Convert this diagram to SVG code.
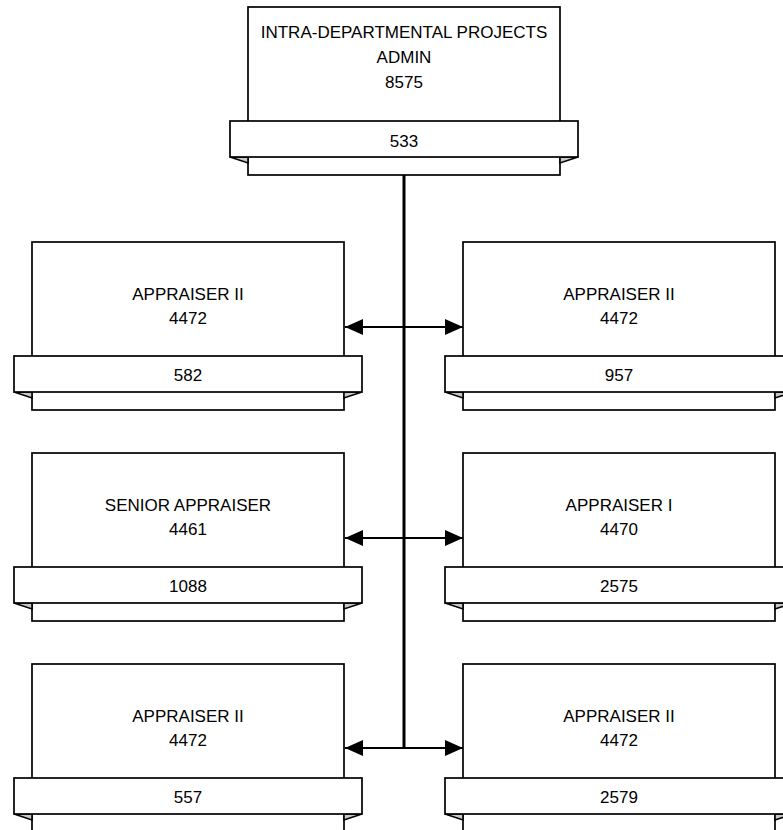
<svg xmlns="http://www.w3.org/2000/svg" width="783" height="830" viewBox="0 0 783 830">
  <style>
    .box { fill: #ffffff; stroke: #000000; stroke-width: 1.7; }
    .fold { fill: #c8c8c8; stroke: #000000; stroke-width: 1.6; stroke-linejoin: miter; }
    .label { font-family: "Liberation Sans", Arial, sans-serif; font-size: 17px; fill: #000000; text-anchor: middle; }
    .trunk { stroke: #000000; stroke-width: 3; fill: none; }
    .branch { stroke: #000000; stroke-width: 2.2; fill: none; }
  </style>
  <defs>
    <!-- Position card: box 312x168 with a 348x36 ribbon; origin at box top-left -->
    <g id="card">
      <rect class="box" x="0" y="0" width="312" height="168"/>
      <polygon class="fold" points="-18,150 0,150 0,156"/>
      <polygon class="fold" points="330,150 312,150 312,156"/>
      <rect class="box" x="-18" y="114" width="348" height="36"/>
    </g>
    <marker id="head" viewBox="0 0 18 16" refX="18" refY="8" markerWidth="18" markerHeight="16" markerUnits="userSpaceOnUse" orient="auto">
      <path d="M0,0 L18,8 L0,16 Z" fill="#000000"/>
    </marker>
  </defs>

  <!-- connectors -->
  <g id="connectors">
    <line class="trunk" x1="404" y1="174" x2="404" y2="749"/>
    <line class="branch" x1="404" y1="327" x2="345" y2="327" marker-end="url(#head)"/>
    <line class="branch" x1="404" y1="327" x2="463" y2="327" marker-end="url(#head)"/>
    <line class="branch" x1="404" y1="538" x2="345" y2="538" marker-end="url(#head)"/>
    <line class="branch" x1="404" y1="538" x2="463" y2="538" marker-end="url(#head)"/>
    <line class="branch" x1="404" y1="748" x2="345" y2="748" marker-end="url(#head)"/>
    <line class="branch" x1="404" y1="748" x2="463" y2="748" marker-end="url(#head)"/>
  </g>

  <!-- head of the unit -->
  <g id="node-admin">
    <use href="#card" x="248" y="7"/>
    <text class="label" x="404" y="38">INTRA-DEPARTMENTAL PROJECTS</text>
    <text class="label" x="404" y="63">ADMIN</text>
    <text class="label" x="404" y="88">8575</text>
    <text class="label" x="404" y="147">533</text>
  </g>

  <!-- left column -->
  <g id="node-582">
    <use href="#card" x="32" y="242"/>
    <text class="label" x="188" y="300">APPRAISER II</text>
    <text class="label" x="188" y="324">4472</text>
    <text class="label" x="188" y="381">582</text>
  </g>
  <g id="node-1088">
    <use href="#card" x="32" y="453"/>
    <text class="label" x="188" y="511">SENIOR APPRAISER</text>
    <text class="label" x="188" y="535">4461</text>
    <text class="label" x="188" y="592">1088</text>
  </g>
  <g id="node-557">
    <use href="#card" x="32" y="664"/>
    <text class="label" x="188" y="722">APPRAISER II</text>
    <text class="label" x="188" y="746">4472</text>
    <text class="label" x="188" y="803">557</text>
  </g>

  <!-- right column -->
  <g id="node-957">
    <use href="#card" x="463" y="242"/>
    <text class="label" x="619" y="300">APPRAISER II</text>
    <text class="label" x="619" y="324">4472</text>
    <text class="label" x="619" y="381">957</text>
  </g>
  <g id="node-2575">
    <use href="#card" x="463" y="453"/>
    <text class="label" x="619" y="511">APPRAISER I</text>
    <text class="label" x="619" y="535">4470</text>
    <text class="label" x="619" y="592">2575</text>
  </g>
  <g id="node-2579">
    <use href="#card" x="463" y="664"/>
    <text class="label" x="619" y="722">APPRAISER II</text>
    <text class="label" x="619" y="746">4472</text>
    <text class="label" x="619" y="803">2579</text>
  </g>
</svg>
